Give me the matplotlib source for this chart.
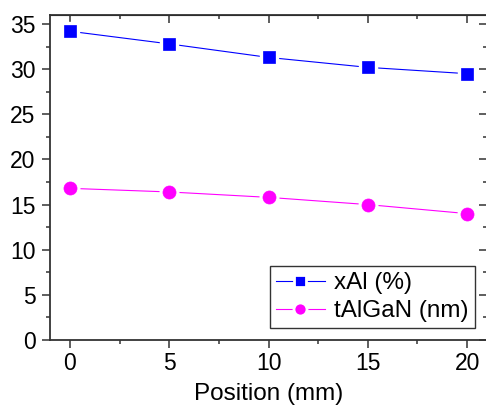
import matplotlib
matplotlib.use("Agg")
import matplotlib.pyplot as plt
from matplotlib.ticker import MultipleLocator
from matplotlib.lines import Line2D

# --- data ---
position = [0, 5, 10, 15, 20]
x_al = [34.2, 32.8, 31.3, 30.2, 29.5]
t_algan = [16.8, 16.4, 15.8, 15.0, 14.0]

plt.rcParams['font.family'] = ['Liberation Sans', 'DejaVu Sans']

fig = plt.figure(figsize=(4.86, 4.07), dpi=100)
# right spine sits just outside the picture, as in the reference
ax = fig.add_axes([50 / 486, 67 / 407, 437 / 486, 325 / 407])

series = [
    (x_al, '#0000ff', 's', 8.6, 'xAl (%)'),
    (t_algan, '#ff00ff', 'o', 9.4, 'tAlGaN (nm)'),
]
handles = []
for vals, col, mk, ms, lab in series:
    ax.plot(position, vals, color=col, lw=0.8, zorder=2)
    # white halo so the line stops short of the marker
    ax.plot(position, vals, ls='none', marker=mk, ms=ms + 4, mfc='white',
            mec='white', zorder=3)
    ax.plot(position, vals, ls='none', marker=mk, ms=ms, mfc=col,
            mec=col, mew=0.5, zorder=4)
    handles.append(Line2D([0], [0], color=col, lw=0.8, marker=mk, ms=ms,
                          mfc=col, mec='white', mew=2, label=lab))

ax.set_xlim(-1, 21)
ax.set_ylim(0, 36)
ax.xaxis.set_major_locator(MultipleLocator(5))
ax.xaxis.set_minor_locator(MultipleLocator(2.5))
ax.yaxis.set_major_locator(MultipleLocator(5))
ax.yaxis.set_minor_locator(MultipleLocator(2.5))

for s in ax.spines.values():
    s.set_linewidth(1.3)
    s.set_color('#333333')

ax.tick_params(which='both', labelsize=16.5, width=1.1, color='#333333')
ax.tick_params(which='major', length=5.5)
ax.tick_params(which='minor', length=3)
ax.tick_params(axis='x', which='both', direction='out', bottom=True, top=False, pad=3)
ax.tick_params(axis='y', which='both', direction='out', left=True, right=False, pad=5)

# inward ticks on the top and right sides
ax_top = ax.secondary_xaxis('top')
ax_top.xaxis.set_major_locator(MultipleLocator(5))
ax_top.xaxis.set_minor_locator(MultipleLocator(2.5))
ax_top.tick_params(which='both', direction='in', labeltop=False, width=1.1, color='#333333')
ax_top.tick_params(which='major', length=5.5)
ax_top.tick_params(which='minor', length=3)
ax_right = ax.secondary_yaxis('right')
ax_right.yaxis.set_major_locator(MultipleLocator(5))
ax_right.yaxis.set_minor_locator(MultipleLocator(2.5))
ax_right.tick_params(which='both', direction='in', labelright=False, width=1.1, color='#333333')
ax_right.tick_params(which='major', length=5.5)
ax_right.tick_params(which='minor', length=3)

ax.set_xlabel('Position (mm)', fontsize=17.5, labelpad=6)

leg = fig.legend(handles=handles, loc='upper left',
                 bbox_to_anchor=(270 / 486, 1 - 266 / 407),
                 fontsize=17.5, frameon=True, fancybox=False,
                 edgecolor='#333333', framealpha=1, handlelength=2.0,
                 handletextpad=0.4, borderpad=0.25, labelspacing=0.25,
                 borderaxespad=0)
leg.get_frame().set_linewidth(1.0)

fig.savefig('out.png', dpi=100)
